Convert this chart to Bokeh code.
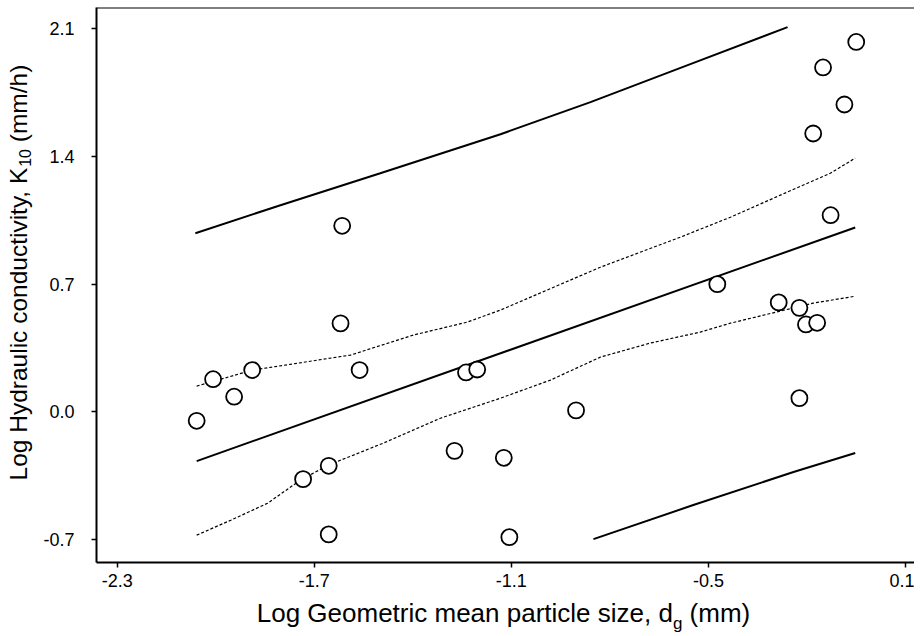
import math
from bokeh.plotting import figure
from bokeh.models import (Range1d, Span, FixedTicker, NumeralTickFormatter,
                          LinearAxis)
from bokeh.embed import file_html
from bokeh.resources import INLINE

# ---- data ----
log_dg = [-2.058, -2.008, -1.944, -1.889, -1.734, -1.656, -1.656, -1.620, -1.615,
          -1.562, -1.273, -1.238, -1.204, -1.123, -1.106, -0.903, -0.473, -0.286,
          -0.223, -0.223, -0.203, -0.169, -0.128, -0.181, -0.151, -0.086, -0.050]
log_k10 = [-0.049, 0.179, 0.083, 0.229, -0.369, -0.296, -0.672, 0.485, 1.020,
           0.229, -0.214, 0.216, 0.232, -0.252, -0.687, 0.008, 0.700, 0.600,
           0.570, 0.075, 0.479, 0.488, 1.078, 1.526, 1.888, 1.685, 2.028]

fit_x = [-2.058, -0.053]
fit_y = [-0.270, 1.011]

ci_upper_x = [-2.058, -1.888, -1.590, -1.398, -1.234, -1.133, -0.829, -0.585,
              -0.433, -0.281, -0.129, -0.053]
ci_upper_y = [0.141, 0.229, 0.311, 0.421, 0.492, 0.558, 0.793, 0.958,
              1.067, 1.188, 1.308, 1.391]
ci_lower_x = [-2.058, -1.954, -1.842, -1.742, -1.657, -1.489, -1.316, -1.133,
              -0.981, -0.829, -0.677, -0.525, -0.433, -0.181, -0.053]
ci_lower_y = [-0.676, -0.594, -0.501, -0.374, -0.292, -0.171, -0.035, 0.075,
              0.174, 0.300, 0.377, 0.437, 0.486, 0.596, 0.634]

pi_upper_x = [-2.062, -1.803, -1.499, -1.133, -0.859, -0.555, -0.259]
pi_upper_y = [0.979, 1.133, 1.308, 1.522, 1.698, 1.906, 2.109]
pi_lower_x = [-0.850, -0.546, -0.241, -0.053]
pi_lower_y = [-0.698, -0.511, -0.330, -0.226]

x_ticks = [-2.3, -1.7, -1.1, -0.5, 0.1]
y_ticks = [-0.7, 0.0, 0.7, 1.4, 2.1]

x_title = ["Log Geometric mean particle size, d", "g", "(mm)"]
y_title = ["Log Hydraulic conductivity, K", "10", "(mm/h)"]

FONT = "Liberation Sans"
X0, X1 = -2.363, 0.1274
Y0, Y1 = -0.826, 2.2168
W, H = 914, 636
BL, BR, BT, BB = 96, 0, 7, 74
FW, FH = W - BL - BR, H - BT - BB

p = figure(width=W, height=H, x_range=Range1d(X0, X1), y_range=Range1d(Y0, Y1),
           output_backend="svg", toolbar_location=None,
           min_border_left=BL, min_border_right=BR, min_border_top=BT,
           min_border_bottom=BB, background_fill_color="white",
           border_fill_color="white")
p.outline_line_color = None
p.grid.visible = False

for ax, ticks in ((p.xaxis, x_ticks), (p.yaxis, y_ticks)):
    ax.ticker = FixedTicker(ticks=ticks)
    ax.formatter = NumeralTickFormatter(format="0.0")
    ax.axis_line_width = 2
    ax.axis_line_color = "black"
    ax.major_tick_line_width = 1.5
    ax.major_tick_line_color = "black"
    ax.major_tick_out = 5
    ax.major_tick_in = 0
    ax.minor_tick_line_color = None
    ax.major_label_text_font = FONT
    ax.major_label_text_font_size = "18px"
    ax.major_label_text_color = "black"
p.xaxis.major_label_standoff = 6
p.yaxis.major_label_standoff = 17

p.add_layout(Span(location=Y1, dimension="width", line_color="black", line_width=2))

# bands and fit
p.line(pi_upper_x, pi_upper_y, line_color="black", line_width=2)
p.line(pi_lower_x, pi_lower_y, line_color="black", line_width=2)
p.line(ci_upper_x, ci_upper_y, line_color="black", line_width=1.2, line_dash="3 2")
p.line(ci_lower_x, ci_lower_y, line_color="black", line_width=1.2, line_dash="3 2")
p.line(fit_x, fit_y, line_color="black", line_width=2)

p.scatter(log_dg, log_k10, marker="circle", size=16, fill_color="white",
          line_color="black", line_width=1.8)

# ---- axis titles with subscripts, drawn as tick labels of bare axes ----
def xd(cx):
    return round(X0 + (cx - BL) / FW * (X1 - X0), 5)

def yd(cy):
    return round(Y1 - (cy - BT) / FH * (Y1 - Y0), 5)

def bare_axis(ticks, labels, size, standoff, orientation=None):
    ax = LinearAxis(ticker=FixedTicker(ticks=ticks),
                    major_label_overrides=dict(zip(ticks, labels)),
                    axis_line_color=None, major_tick_line_color=None,
                    minor_tick_line_color=None, major_tick_in=0, major_tick_out=0,
                    major_label_standoff=standoff, major_label_text_font=FONT,
                    major_label_text_font_size=size,
                    major_label_text_color="black")
    if orientation is not None:
        ax.major_label_orientation = orientation
    return ax

# x title (horizontal)
S, SUB = 26, 17
main_w = 16.006 * S
sub_w = 0.556 * SUB
sp_w = 0.278 * S
rest_w = 2.332 * S
start = 503 - (main_w + sub_w + sp_w + rest_w) / 2
anchor = start + main_w
xt_main = [xd(start + main_w / 2), xd(anchor + sub_w + sp_w + rest_w / 2)]
xt_sub = [xd(anchor + sub_w / 2)]
p.add_layout(bare_axis(xt_main, [x_title[0], x_title[2]], f"{S}px", 8), "below")
p.add_layout(bare_axis(xt_sub, [x_title[1]], f"{SUB}px", -17), "below")

# y title (rotated, reads bottom to top)
S, SUB = 24.5, 16
main_w = 12.838 * S
sub_w = 1.112 * SUB
sp_w = 0.278 * S
rest_w = 3.166 * S
start = 272.5 + (main_w + sub_w + sp_w + rest_w) / 2
anchor = start - main_w
yt_main = [yd(start - main_w / 2), yd(anchor - sub_w - sp_w - rest_w / 2)]
yt_sub = [yd(anchor - sub_w / 2)]
p.add_layout(bare_axis(yt_sub, [y_title[1]], f"{SUB}px", 9, "parallel"), "left")
p.add_layout(bare_axis(yt_main, [y_title[0], y_title[2]], f"{S}px", -16, "parallel"), "left")

open("out.html", "w").write(file_html(p, INLINE))
